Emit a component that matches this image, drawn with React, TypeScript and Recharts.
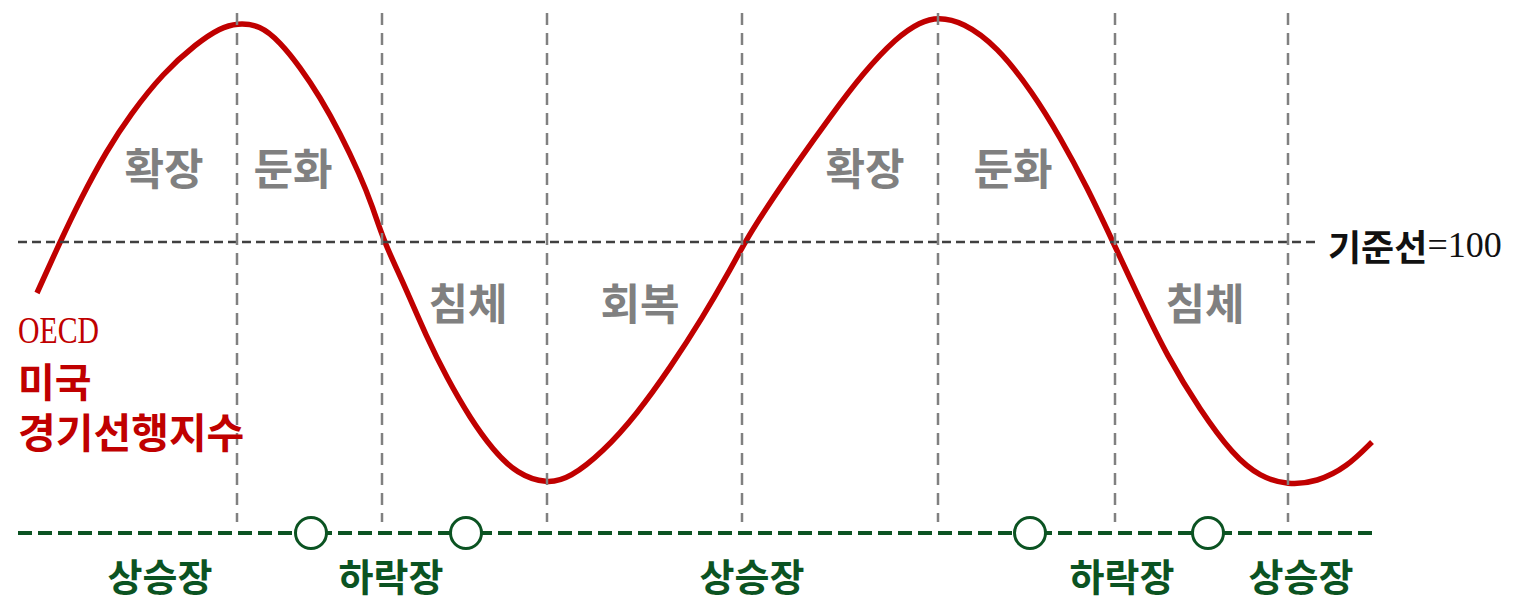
import React from 'react';
import { LineChart, Line, XAxis, YAxis, ReferenceLine, ReferenceDot } from 'recharts';

// time axis (months) and OECD US CLI values
const months = [
  3.7, 6.0, 8.0, 10.7, 13.0, 16.3, 19.7, 22.0, 23.7, 26.0, 28.0, 30.0, 32.0, 34.0, 36.0, 37.2,
  38.4, 40.3, 42.7, 44.7, 47.0, 49.3, 51.7, 54.7, 57.0, 60.3, 63.7, 67.0, 70.3, 73.0,
  74.5, 76.3, 79.7, 83.0, 86.3, 89.7, 92.0, 93.8, 96.3, 99.7, 103.3, 106.0, 108.7,
  111.3, 114.0, 116.7, 120.0, 123.3, 126.0, 128.8, 131.7, 134.7, 137.2,
];
const cliValues = [
  99.745, 100.0, 100.21, 100.46, 100.635, 100.845, 100.995, 101.07, 101.095, 101.085, 101.0, 100.875, 100.725, 100.545, 100.335, 100.185,
  100.0, 99.8, 99.52, 99.32, 99.12, 98.96, 98.84, 98.79, 98.82, 98.95, 99.14, 99.37, 99.625, 99.86,
  100.0, 100.145, 100.395, 100.625, 100.845, 101.025, 101.1, 101.125, 101.1, 100.98, 100.745, 100.525, 100.275,
  100.0, 99.71, 99.43, 99.16, 98.935, 98.825, 98.785, 98.8, 98.875, 99.0,
];
const phaseBoundaries = [23.7, 38.2, 54.7, 74.2, 93.8, 111.5, 128.8];
const marketTurns = [31.1, 46.6, 103.0, 120.8];
const phaseNames = ['확장', '둔화', '침체', '회복', '확장', '둔화', '침체'];
const marketNames = ['상승장', '하락장', '상승장', '하락장', '상승장'];
const BASELINE = 100;

const data = months.map((t, i) => ({ t, v: cliValues[i] }));

// layout (in chart units)
const X_DOMAIN: [number, number] = [0, 151.4];
const Y_DOMAIN: [number, number] = [98.185, 101.21];
const V_TOP = 101.145;
const V_BOTTOM = 98.6;
const MARKET_LINE = 98.545;
const MARKET_TEXT = 98.34;
const phaseLabelPos: [number, number][] = [
  [16.4, 100.38], [29.3, 100.38], [46.8, 99.705], [64.0, 99.705],
  [86.5, 100.38], [101.3, 100.38], [120.5, 99.705],
];
const marketLabelX = [16.0, 39.1, 75.2, 112.2, 130.1];
const LINE_START = 1.8;
const BASE_END = 132.0;
const MARKET_END = 137.3;

const RED = '#C00000';
const GREEN = '#0B5322';
const GRAY = '#808080';
const SANS = '"Noto Sans CJK KR", "Noto Sans", sans-serif';
const SERIF = '"Liberation Serif", "DejaVu Serif", serif';

const textShape = (content: React.ReactNode, style: any, anchor: string = 'middle', extra: any = {}) =>
  (p: any) => (
    <text x={p.cx} y={p.cy} textAnchor={anchor} dominantBaseline="central" style={style} {...extra}>
      {content}
    </text>
  );

export default function App() {
  return (
    <div style={{ position: 'absolute', left: 0, top: 0, width: 1514, height: 605, background: '#fff' }}>
      <LineChart width={1514} height={605} data={data} margin={{ top: 0, right: 0, bottom: 0, left: 0 }}>
        <XAxis dataKey="t" type="number" domain={X_DOMAIN} allowDataOverflow hide />
        <YAxis type="number" domain={Y_DOMAIN} allowDataOverflow hide />
        <Line
          type="basis"
          dataKey="v"
          stroke={RED}
          strokeWidth={5.5}
          dot={false}
          activeDot={false}
          isAnimationActive={false}
        />
        <ReferenceLine
          segment={[{ x: LINE_START, y: BASELINE }, { x: BASE_END, y: BASELINE }]}
          stroke="#404040"
          strokeWidth={2.5}
          strokeDasharray="9 5"
        />
        {phaseBoundaries.map((b, i) => (
          <ReferenceLine
            key={'pb' + i}
            segment={[{ x: b, y: V_TOP }, { x: b, y: V_BOTTOM }]}
            stroke={GRAY}
            strokeWidth={2.5}
            strokeDasharray="12 8"
          />
        ))}
        <ReferenceLine
          segment={[{ x: LINE_START, y: MARKET_LINE }, { x: MARKET_END, y: MARKET_LINE }]}
          stroke={GREEN}
          strokeWidth={4}
          strokeDasharray="14 6"
        />
        {marketTurns.map((m, i) => (
          <ReferenceDot
            key={'mt' + i}
            x={m}
            y={MARKET_LINE}
            r={15.5}
            fill="#fff"
            stroke={GREEN}
            strokeWidth={3}
          />
        ))}
        {phaseNames.map((name, i) => (
          <ReferenceDot
            key={'pn' + i}
            x={phaseLabelPos[i][0]}
            y={phaseLabelPos[i][1]}
            r={0}
            shape={textShape(name, { fontFamily: SANS, fontWeight: 700, fontSize: 43, fill: GRAY })}
          />
        ))}
        {marketNames.map((name, i) => (
          <ReferenceDot
            key={'mn' + i}
            x={marketLabelX[i]}
            y={MARKET_TEXT}
            r={0}
            shape={textShape(name, { fontFamily: SANS, fontWeight: 700, fontSize: 38, fill: GREEN })}
          />
        ))}
        <ReferenceDot
          x={BASE_END + 0.8}
          y={BASELINE}
          r={0}
          shape={textShape(
            <>
              <tspan style={{ fontFamily: SANS, fontWeight: 700, fontSize: 36, fill: '#111' }}>기준선</tspan>
              <tspan style={{ fontFamily: SERIF, fontSize: 36, fill: '#111' }}>=100</tspan>
            </>,
            {},
            'start',
            { dy: 3 }
          )}
        />
        <ReferenceDot
          x={LINE_START}
          y={99.56}
          r={0}
          shape={textShape('OECD', { fontFamily: SERIF, fontSize: 37, fill: RED }, 'start', {
            textLength: 81,
            lengthAdjust: 'spacingAndGlyphs',
          })}
        />
        <ReferenceDot
          x={LINE_START}
          y={99.31}
          r={0}
          shape={textShape('미국', { fontFamily: SANS, fontWeight: 700, fontSize: 40, fill: RED }, 'start')}
        />
        <ReferenceDot
          x={LINE_START}
          y={99.06}
          r={0}
          shape={textShape('경기선행지수', { fontFamily: SANS, fontWeight: 700, fontSize: 41, fill: RED }, 'start')}
        />
      </LineChart>
    </div>
  );
}
